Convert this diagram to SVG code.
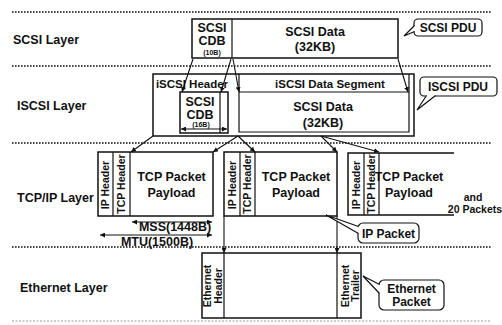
<svg xmlns="http://www.w3.org/2000/svg" width="502" height="325" viewBox="0 0 502 325">
<defs>
<marker id="ah" viewBox="0 0 6 6" refX="6" refY="3" markerWidth="5" markerHeight="5" markerUnits="userSpaceOnUse" orient="auto-start-reverse"><path d="M0,0 L6,3 L0,6 z" fill="#111"/></marker>
</defs>
<style>
text{font-family:"Liberation Sans",Arial,sans-serif;font-weight:bold;fill:#111}
.lbl{font-size:12.5px}
.c{text-anchor:middle}
.box{fill:#fff;stroke:#111;stroke-width:1.5}
.ln{fill:none;stroke:#111;stroke-width:1.2}
.dot{stroke:#111;stroke-width:1.6;stroke-dasharray:1.6 1.4}
.v{font-size:10.5px;text-anchor:middle}
.ev{font-size:10.5px;text-anchor:middle}
.sm{font-size:7px;text-anchor:middle}
.co{fill:#fff;stroke:#111;stroke-width:1.2}
.arr{fill:none;stroke:#111;stroke-width:1.1;marker-end:url(#ah)}
</style>
<rect width="502" height="325" fill="#fff"/>

<g id="layers">
<line class="dot" x1="12" y1="12" x2="491" y2="12"/>
<line class="dot" x1="12" y1="66" x2="491" y2="66"/>
<line class="dot" x1="12" y1="143" x2="491" y2="143"/>
<line class="dot" x1="12" y1="247" x2="491" y2="247"/>
<line x1="12" y1="321" x2="491" y2="321" stroke="#999" stroke-width="1" stroke-dasharray="2 1.5"/>
<text class="lbl" x="13" y="44">SCSI Layer</text>
<text class="lbl" x="17" y="110">ISCSI Layer</text>
<text class="lbl" x="17" y="202">TCP/IP Layer</text>
<text class="lbl" x="20" y="292">Ethernet Layer</text>
</g>

<g id="scsi-pdu">
<rect class="box" x="192" y="19" width="206" height="39"/>
<line class="ln" x1="232" y1="19" x2="232" y2="58"/>
<text class="lbl c" x="212" y="32">SCSI</text>
<text class="lbl c" x="212" y="45">CDB</text>
<text class="sm" x="212" y="55">(10B)</text>
<text class="lbl c" x="315" y="36">SCSI Data</text>
<text class="lbl c" x="315" y="51">(32KB)</text>
</g>

<g id="iscsi-pdu">
<rect class="box" x="153" y="74" width="261" height="62" stroke-width="1.8"/>
<path class="ln" d="M239,74 V132 H409 V74"/>
<line class="ln" x1="239" y1="92" x2="409" y2="92"/>
<text class="c" font-size="11.5" x="192" y="88">iSCSI Header</text>
<rect class="box" x="180" y="92" width="48" height="41" stroke-width="1.2"/>
<line class="ln" x1="220" y1="92" x2="220" y2="133"/>
<text class="lbl c" x="200" y="106">SCSI</text>
<text class="lbl c" x="200" y="119">CDB</text>
<text class="sm" x="201" y="127">(16B)</text>
<line x1="181" y1="129" x2="227" y2="129" stroke="#111" stroke-width="1" marker-start="url(#ah)" marker-end="url(#ah)"/>
<text class="c" font-size="11.5" x="330" y="88">iSCSI Data Segment</text>
<text class="lbl c" x="323" y="111">SCSI Data</text>
<text class="lbl c" x="323" y="127">(32KB)</text>
</g>

<g id="tcp-packet-1">
<rect class="box" x="98" y="152" width="115" height="64"/>
<line class="ln" x1="113" y1="152" x2="113" y2="216"/>
<line class="ln" x1="130" y1="152" x2="130" y2="216"/>
<text class="v" transform="translate(109.2,185) rotate(-90)">IP Header</text>
<text class="v" transform="translate(125.2,184) rotate(-90)">TCP Header</text>
<text class="lbl c" x="171.5" y="181">TCP Packet</text>
<text class="lbl c" x="171.5" y="197">Payload</text>
</g>

<g id="tcp-packet-2">
<rect class="box" x="224" y="152" width="113" height="64"/>
<line class="ln" x1="240" y1="152" x2="240" y2="216"/>
<line class="ln" x1="255" y1="152" x2="255" y2="216"/>
<text class="v" transform="translate(235.7,185) rotate(-90)">IP Header</text>
<text class="v" transform="translate(251.2,184) rotate(-90)">TCP Header</text>
<text class="lbl c" x="296" y="181">TCP Packet</text>
<text class="lbl c" x="296" y="197">Payload</text>
</g>

<g id="tcp-packet-3">
<path d="M454,153 H348 V215 H454" fill="none" stroke="#111" stroke-width="1.5"/>
<line class="ln" x1="364" y1="153" x2="364" y2="215"/>
<line class="ln" x1="379" y1="153" x2="379" y2="215"/>
<text class="v" transform="translate(359.7,185) rotate(-90)">IP Header</text>
<text class="v" transform="translate(375.2,184) rotate(-90)">TCP Header</text>
<text class="lbl c" x="409" y="181">TCP Packet</text>
<text class="lbl c" x="409" y="197">Payload</text>
</g>

<g id="more-packets">
<text class="c" font-size="10.5" x="473" y="201">and</text>
<text class="c" font-size="10.5" x="475" y="213">20 Packets</text>
</g>

<g id="ethernet-frame">
<rect class="box" x="202" y="253" width="159" height="65"/>
<line class="ln" x1="224" y1="253" x2="224" y2="318"/>
<line class="ln" x1="337" y1="253" x2="337" y2="318"/>
<text class="ev" transform="translate(211,286) rotate(-90)">Ethernet</text>
<text class="ev" transform="translate(221.5,286) rotate(-90)">Header</text>
<text class="ev" transform="translate(348.5,286) rotate(-90)">Ethernet</text>
<text class="ev" transform="translate(359,286) rotate(-90)">Trailer</text>
</g>

<g id="mss-mtu">
<line x1="132" y1="222" x2="212" y2="222" stroke="#111" stroke-width="1" marker-start="url(#ah)" marker-end="url(#ah)"/>
<text class="lbl c" x="175" y="231">MSS(1448B)</text>
<line x1="100" y1="235" x2="212" y2="235" stroke="#111" stroke-width="1" marker-start="url(#ah)" marker-end="url(#ah)"/>
<text class="lbl c" x="157" y="246">MTU(1500B)</text>
</g>

<g id="connectors">
<line class="arr" x1="193" y1="59" x2="182" y2="92"/>
<line class="arr" x1="231" y1="59" x2="221" y2="92"/>
<line class="arr" x1="233" y1="59" x2="239" y2="92"/>
<line class="arr" x1="398" y1="59" x2="408" y2="92"/>
<line class="arr" x1="153" y1="136" x2="131" y2="152"/>
<line class="arr" x1="238" y1="136" x2="213" y2="152"/>
<line class="arr" x1="238" y1="136" x2="255" y2="152"/>
<line class="arr" x1="321" y1="136" x2="337" y2="152"/>
<line class="arr" x1="321" y1="136" x2="379" y2="152"/>
<line class="arr" x1="224" y1="216" x2="224" y2="253"/>
<line class="arr" x1="337" y1="216" x2="337" y2="253"/>
</g>

<g id="callout-scsi-pdu">
<rect class="co" x="414" y="19" width="68" height="17" rx="4"/>
<line x1="414" y1="26" x2="414" y2="31" stroke="#fff" stroke-width="2"/>
<polyline points="414.5,25.5 404,36 414.5,31.5" fill="#fff" stroke="#111" stroke-width="1.2"/>
<text class="c" font-size="12" x="448" y="32">SCSI PDU</text>
</g>

<g id="callout-iscsi-pdu">
<rect class="co" x="420" y="77" width="77" height="19" rx="4"/>
<line x1="427" y1="96" x2="435" y2="96" stroke="#fff" stroke-width="2"/>
<polyline points="426.5,95.5 417,110 435.5,95.5" fill="#fff" stroke="#111" stroke-width="1.2"/>
<text class="c" font-size="12" x="458" y="91">ISCSI PDU</text>
</g>

<g id="callout-ip-packet">
<rect class="co" x="358" y="223" width="61" height="20" rx="5"/>
<line x1="358" y1="227" x2="358" y2="233" stroke="#fff" stroke-width="2"/>
<polyline points="358.5,226.5 326,215 358.5,233.5" fill="#fff" stroke="#111" stroke-width="1.2"/>
<text class="c" font-size="12" x="388.5" y="238">IP Packet</text>
</g>

<g id="callout-ethernet-packet">
<rect class="co" x="379" y="280" width="65" height="30" rx="5"/>
<line x1="379" y1="285" x2="379" y2="293" stroke="#fff" stroke-width="2"/>
<polyline points="379.5,284.5 363,276 379.5,293.5" fill="#fff" stroke="#111" stroke-width="1.2"/>
<text class="c" font-size="12" x="411.5" y="293">Ethernet</text>
<text class="c" font-size="12" x="411.5" y="306">Packet</text>
</g>
</svg>
